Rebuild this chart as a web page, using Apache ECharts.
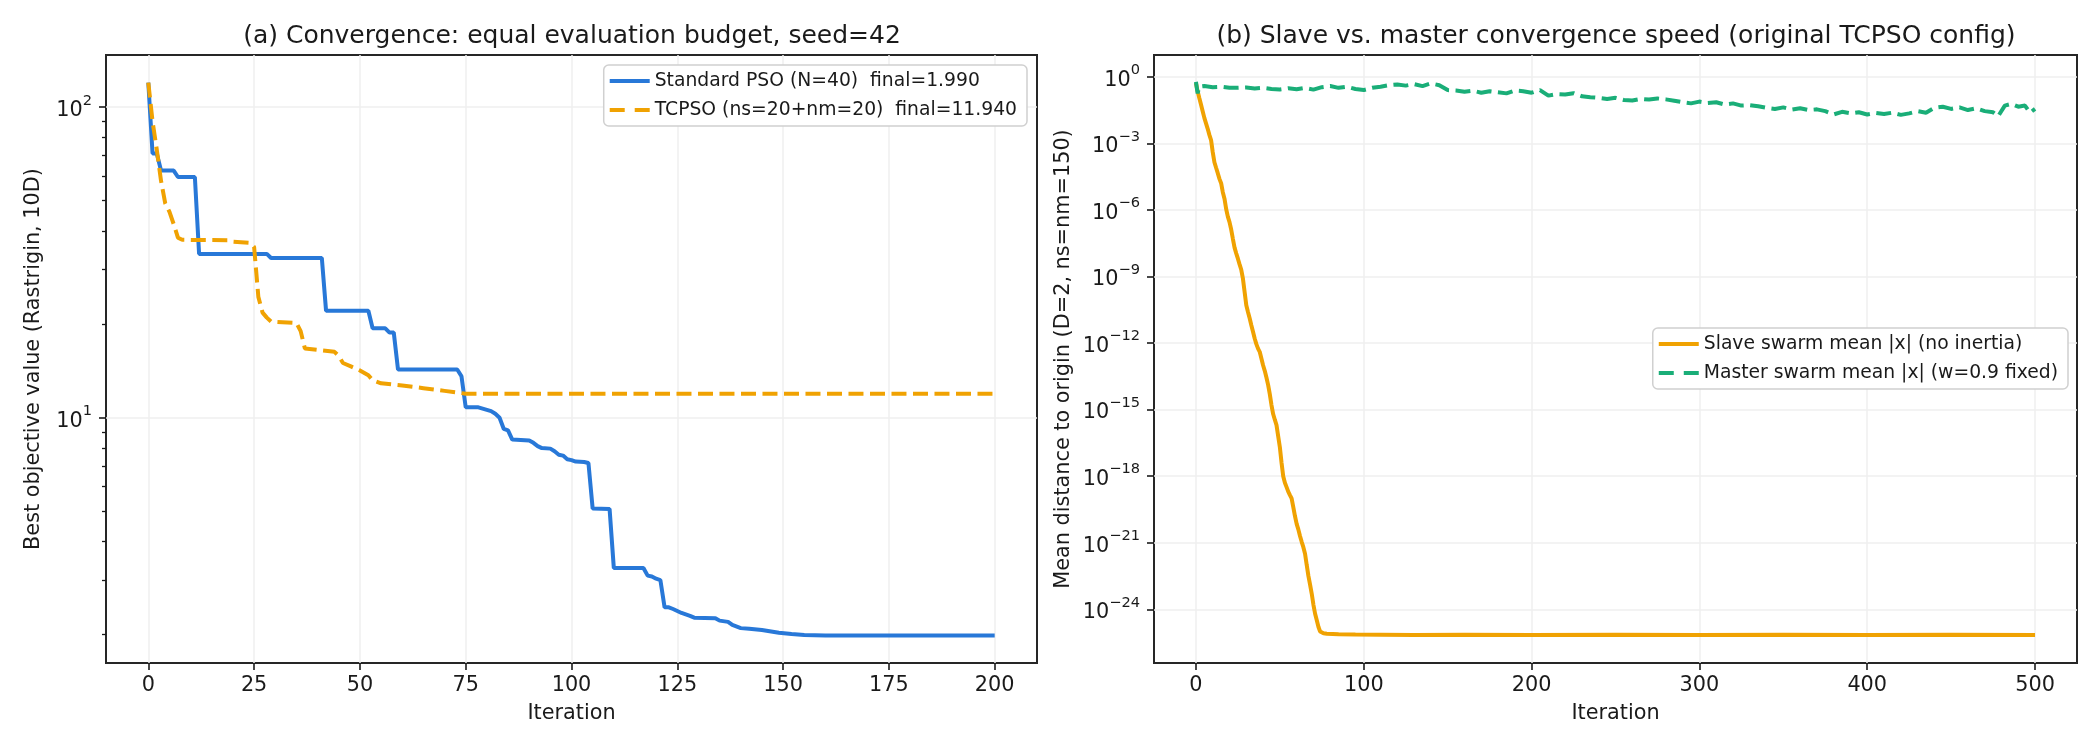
<!DOCTYPE html>
<html>
<head>
<meta charset="utf-8">
<script src="https://cdn.jsdelivr.net/npm/echarts@6/dist/echarts.min.js"></script>
<style>
html, body { margin: 0; padding: 0; background: #fff; }
#chart { width: 2100px; height: 750px; }
</style>
</head>
<body>
<div id="chart"></div>
<script>
// (a) best objective per iteration
const stdIter = [0, 1, 2, 3, 6, 7, 11, 12, 28, 29, 41, 42, 52, 53, 56, 57, 58, 59, 73, 74,
  75, 78, 80, 81, 82, 83, 84, 85, 86, 90, 91, 92, 93, 95, 96, 97, 98, 99, 100, 101,
  103, 104, 105, 109, 110, 117, 118, 119, 120, 121, 122, 123, 124, 126, 128, 129, 134, 135, 137, 138,
  140, 142, 145, 149, 152, 155, 160, 200]
const stdVal = [120, 71, 71, 62.5, 62.5, 59.6, 59.6, 33.7, 33.7, 32.7, 32.7, 22.1, 22.1, 19.4, 19.4, 18.8, 18.8, 14.3, 14.3, 13.6,
  10.8, 10.8, 10.6, 10.5, 10.3, 10.0, 9.2, 9.1, 8.5, 8.45, 8.3, 8.1, 7.98, 7.95, 7.8, 7.6, 7.55, 7.35, 7.3, 7.22,
  7.2, 7.15, 5.1, 5.08, 3.28, 3.28, 3.1, 3.08, 3.03, 3.0, 2.45, 2.45, 2.42, 2.35, 2.3, 2.27, 2.26, 2.22, 2.2, 2.15,
  2.1, 2.09, 2.07, 2.03, 2.01, 1.995, 1.99, 1.99]
const tcpIter = [0, 1, 2, 3, 4, 5, 6, 7, 8, 19, 20, 24, 25, 26, 27, 28, 29, 35, 36, 37,
  44, 45, 46, 48, 50, 52, 53, 55, 60, 65, 70, 74, 75, 200]
const tcpVal = [120, 90, 73, 58, 49, 46, 42, 38, 37.4, 37.3, 36.9, 36.6, 35.5, 24.5, 21.8, 21, 20.4, 20.2, 19, 16.7,
  16.3, 15.8, 15, 14.6, 14.2, 13.7, 13.2, 12.9, 12.7, 12.45, 12.2, 12.0, 11.94, 11.94]

// (b) slave swarm, iterations 0..76 then sparse tail
const slaveHead = [5.2e-1, 2.2e-1, 1.1e-1, 5.6e-2, 2.8e-2, 1.4e-2, 7.9e-3, 4.5e-3, 2.4e-3, 1.4e-3,
  4.0e-4, 1.4e-4, 7.9e-5, 4.5e-5, 2.5e-5, 1.6e-5, 6.3e-6, 3.2e-6, 1.1e-6, 5.0e-7,
  2.8e-7, 1.3e-7, 5.0e-8, 2.0e-8, 1.1e-8, 6.3e-9, 3.5e-9, 2.0e-9, 7.9e-10, 2.0e-10,
  5.0e-11, 2.5e-11, 1.3e-11, 6.3e-12, 3.2e-12, 1.6e-12, 8.9e-13, 5.6e-13, 4.0e-13, 2.0e-13,
  1.0e-13, 5.6e-14, 2.8e-14, 1.3e-14, 5.0e-15, 1.6e-15, 6.3e-16, 3.5e-16, 2.0e-16, 6.3e-17,
  2.0e-17, 4.0e-18, 1.0e-18, 5.0e-19, 3.2e-19, 2.0e-19, 1.4e-19, 1.0e-19, 4.0e-20, 1.6e-20,
  7.1e-21, 4.0e-21, 2.0e-21, 1.1e-21, 6.3e-22, 3.2e-22, 1.0e-22, 3.2e-23, 1.3e-23, 5.0e-24,
  1.6e-24, 6.3e-25, 3.2e-25, 1.6e-25, 1.0e-25, 8.9e-26, 8.3e-26]
const slaveTailIter = [78, 85, 95, 110, 130, 160, 200, 250, 300, 350, 400, 450, 500]
const slaveTailVal = [7.9e-26, 7.6e-26, 7.3e-26, 7.2e-26, 7.0e-26, 7.2e-26, 7.0e-26, 7.1e-26, 7.0e-26, 7.2e-26, 7.0e-26, 7.1e-26, 7.0e-26]

// (b) master swarm
const masterIter = [0, 1, 2, 5, 10, 15, 20, 25, 30, 35, 40, 45, 50, 55, 60, 65, 70, 75, 80, 85,
  90, 95, 100, 105, 110, 115, 120, 125, 130, 135, 140, 145, 150, 155, 160, 165, 170, 175, 180, 185,
  190, 195, 200, 205, 210, 215, 220, 225, 230, 235, 240, 245, 250, 255, 260, 265, 270, 275, 280, 285,
  290, 295, 300, 305, 310, 315, 320, 325, 330, 335, 340, 345, 350, 355, 360, 365, 370, 375, 380, 385,
  390, 395, 400, 405, 410, 415, 420, 425, 430, 435, 440, 445, 450, 455, 460, 465, 470, 475, 478, 482,
  486, 490, 494, 497, 500]
const masterVal = [0.589, 0.178, 0.355, 0.380, 0.339, 0.355, 0.316, 0.316, 0.331, 0.295, 0.316, 0.282, 0.269, 0.302, 0.275, 0.316, 0.263, 0.339, 0.380, 0.316,
  0.355, 0.282, 0.251, 0.316, 0.355, 0.417, 0.447, 0.398, 0.468, 0.380, 0.501, 0.417, 0.251, 0.240, 0.209, 0.234, 0.191, 0.224, 0.200, 0.178,
  0.240, 0.224, 0.191, 0.251, 0.141, 0.166, 0.158, 0.182, 0.132, 0.120, 0.112, 0.100, 0.112, 0.0891, 0.0851, 0.100, 0.0933, 0.105, 0.0955, 0.0832,
  0.0708, 0.0631, 0.0759, 0.0661, 0.0708, 0.0562, 0.0631, 0.0501, 0.0525, 0.0468, 0.0398, 0.0355, 0.0417, 0.0331, 0.0380, 0.0316, 0.0339, 0.0282, 0.0200, 0.0263,
  0.0224, 0.0251, 0.0200, 0.0234, 0.0209, 0.0240, 0.0191, 0.0224, 0.0282, 0.0240, 0.0398, 0.0447, 0.0355, 0.0417, 0.0316, 0.0380, 0.0282, 0.0251, 0.0166, 0.0501,
  0.0603, 0.0447, 0.0501, 0.0240, 0.0355]

// ticks
const leftXTicks = [0, 25, 50, 75, 100, 125, 150, 175, 200]
const rightXTicks = [0, 100, 200, 300, 400, 500]
const leftMajorExp = [1, 2]
const leftMinorTicks = [2, 3, 4, 5, 6, 7, 8, 9, 20, 30, 40, 50, 60, 70, 80, 90]
const rightMajorExp = [0, -3, -6, -9, -12, -15, -18, -21, -24]

const FONT = 'DejaVu Sans'
const INK = '#1a1a1a'
const lg = v => Math.log10(v)
const pairs = (xs, ys) => xs.map((x, i) => [x, lg(ys[i])])

const supLabel = v => {
    const e = Math.round(v)
    const s = e < 0 ? '\u2212' + Math.abs(e) : String(e)
    return '{b|10}{s|' + s + '}'
}
const richSup = {
    b: { fontSize: 20.8, fontFamily: FONT, color: INK, verticalAlign: 'bottom', lineHeight: 28 },
    s: { fontSize: 14.6, fontFamily: FONT, color: INK, verticalAlign: 'top', lineHeight: 28 }
}

const xAxisBase = (gridIndex, min, max, ticks) => ({
    type: 'value',
    gridIndex,
    min,
    max,
    name: 'Iteration',
    nameLocation: 'middle',
    nameGap: 40,
    nameTextStyle: { fontFamily: FONT, fontSize: 20.8, color: INK },
    axisLine: { show: false, onZero: false },
    axisTick: { show: true, length: 7, lineStyle: { color: INK, width: 1.6 }, customValues: ticks },
    axisLabel: { margin: 12, fontFamily: FONT, fontSize: 20.8, color: INK, customValues: ticks },
    splitLine: { show: true, lineStyle: { color: '#efefef', width: 1.5 } }
})

const chart = echarts.init(document.getElementById('chart'))

const stdColor = '#2878d8'
const tcpColor = '#f0a202'
const slaveColor = '#f0a202'
const masterColor = '#1aae78'
const dash = [15, 6.5]
const solidIcon = 'rect'
const dashIcon = 'path://M0,0H15V4H0Z M25,0H40V4H25Z'

const legendBase = {
    orient: 'vertical',
    itemWidth: 40, itemHeight: 4, itemGap: 9,
    padding: [6, 10, 6, 6],
    backgroundColor: '#fff', borderColor: '#d0d0d0', borderWidth: 1.5, borderRadius: 5,
    textStyle: { fontFamily: FONT, fontSize: 18.75, color: INK, lineHeight: 20 }
}

const option = {
    animation: false,
    backgroundColor: '#fff',
    textStyle: { fontFamily: FONT },
    title: [
        {
            text: '(a) Convergence: equal evaluation budget, seed=42',
            left: 567, top: 19, textAlign: 'center',
            textStyle: { fontFamily: FONT, fontSize: 25, fontWeight: 'normal', color: INK }
        },
        {
            text: '(b) Slave vs. master convergence speed (original TCPSO config)',
            left: 1611, top: 19, textAlign: 'center',
            textStyle: { fontFamily: FONT, fontSize: 25, fontWeight: 'normal', color: INK }
        }
    ],
    legend: [
        Object.assign({}, legendBase, {
            data: [
                { name: 'Standard PSO (N=40)  final=1.990', icon: solidIcon },
                { name: 'TCPSO (ns=20+nm=20)  final=11.940', icon: dashIcon }
            ],
            right: 1073, top: 65
        }),
        Object.assign({}, legendBase, {
            data: [
                { name: 'Slave swarm mean |x| (no inertia)', icon: solidIcon },
                { name: 'Master swarm mean |x| (w=0.9 fixed)', icon: dashIcon }
            ],
            right: 32, top: 328
        })
    ],
    grid: [
        { left: 106, top: 55, width: 931, height: 608, show: true, borderColor: '#262626', borderWidth: 2, backgroundColor: 'transparent' },
        { left: 1154, top: 55, width: 923, height: 608, show: true, borderColor: '#262626', borderWidth: 2, backgroundColor: 'transparent' }
    ],
    xAxis: [
        xAxisBase(0, -10, 210, leftXTicks),
        xAxisBase(1, -25, 525, rightXTicks)
    ],
    yAxis: [
        {
            type: 'value', gridIndex: 0, position: 'left',
            min: 0.2099, max: 2.1682,
            name: 'Best objective value (Rastrigin, 10D)',
            nameLocation: 'middle', nameGap: 62,
            nameTextStyle: { fontFamily: FONT, fontSize: 20.8, color: INK },
            axisLine: { show: false, onZero: false },
            axisTick: { show: true, length: 7, lineStyle: { color: INK, width: 1.6 }, customValues: leftMajorExp },
            axisLabel: { margin: 14, formatter: supLabel, rich: richSup, customValues: leftMajorExp },
            splitLine: { show: true, lineStyle: { color: '#efefef', width: 1.5 } }
        },
        {
            type: 'value', gridIndex: 0, position: 'left',
            min: 0.2099, max: 2.1682,
            axisLine: { show: false, onZero: false },
            axisTick: { show: true, length: 4, lineStyle: { color: INK, width: 1.3 }, customValues: leftMinorTicks.map(lg) },
            axisLabel: { show: false },
            splitLine: { show: false }
        },
        {
            type: 'value', gridIndex: 1, position: 'left',
            min: -26.42, max: 0.98,
            name: 'Mean distance to origin (D=2, ns=nm=150)',
            nameLocation: 'middle', nameGap: 80,
            nameTextStyle: { fontFamily: FONT, fontSize: 20.8, color: INK },
            axisLine: { show: false, onZero: false },
            axisTick: { show: true, length: 7, lineStyle: { color: INK, width: 1.6 }, customValues: rightMajorExp },
            axisLabel: { margin: 14, formatter: supLabel, rich: richSup, customValues: rightMajorExp },
            splitLine: { show: true, lineStyle: { color: '#efefef', width: 1.5 } }
        }
    ],
    series: [
        {
            name: 'Standard PSO (N=40)  final=1.990', type: 'line', xAxisIndex: 0, yAxisIndex: 0,
            data: pairs(stdIter, stdVal), symbol: 'none',
            lineStyle: { color: stdColor, width: 4 }, itemStyle: { color: stdColor }
        },
        {
            name: 'TCPSO (ns=20+nm=20)  final=11.940', type: 'line', xAxisIndex: 0, yAxisIndex: 0,
            data: pairs(tcpIter, tcpVal), symbol: 'none',
            lineStyle: { color: tcpColor, width: 4, type: dash }, itemStyle: { color: tcpColor }
        },
        {
            name: 'Slave swarm mean |x| (no inertia)', type: 'line', xAxisIndex: 1, yAxisIndex: 2,
            data: slaveHead.map((v, i) => [i, lg(v)]).concat(pairs(slaveTailIter, slaveTailVal)), symbol: 'none',
            lineStyle: { color: slaveColor, width: 4 }, itemStyle: { color: slaveColor }
        },
        {
            name: 'Master swarm mean |x| (w=0.9 fixed)', type: 'line', xAxisIndex: 1, yAxisIndex: 2,
            data: pairs(masterIter, masterVal), symbol: 'none',
            lineStyle: { color: masterColor, width: 4, type: dash }, itemStyle: { color: masterColor }
        }
    ]
}
chart.setOption(option)
</script>
</body>
</html>
